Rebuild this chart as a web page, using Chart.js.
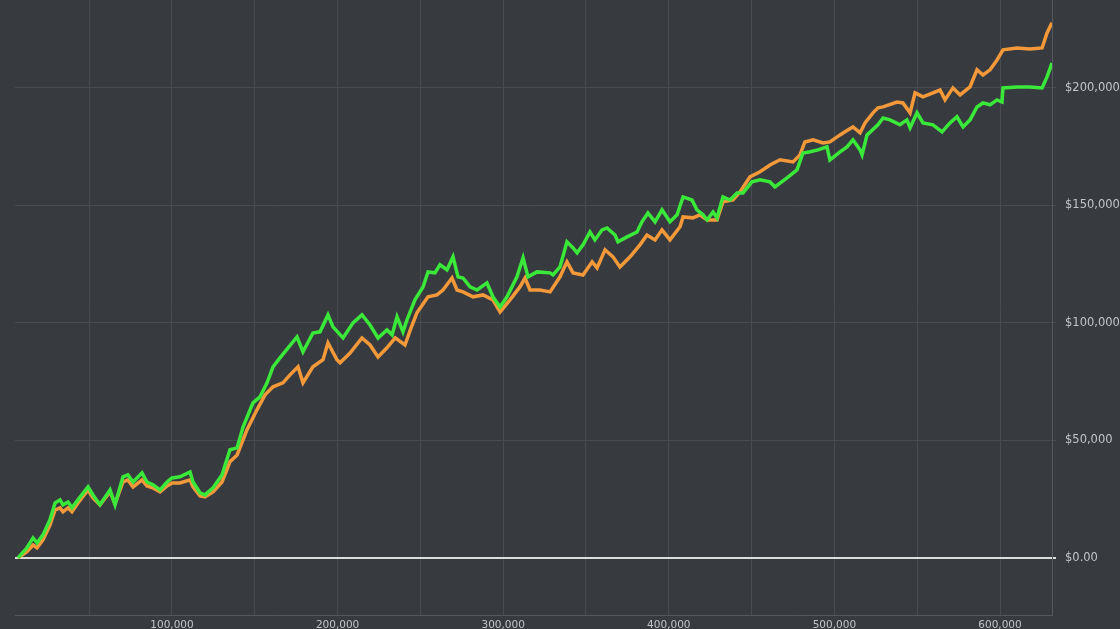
<!DOCTYPE html>
<html>
<head>
<meta charset="utf-8">
<title>Equity curve</title>
<script src="https://cdn.jsdelivr.net/npm/chart.js@4"></script>
<style>
    html, body { margin: 0; padding: 0; background: #373a3e; }
    .graph { width: 1120px; height: 629px; position: relative; }
    canvas { background: #373a3e; }
</style>
</head>
<body>
<div class="graph"><canvas id="equity--chart"></canvas></div>
<script>
"use strict";

// green curve (x = trade count, y = equity $)
const greenX = [
    7000, 12400, 16100, 18500, 22100, 26300, 29400, 32400, 34200, 37200,
    39600, 43200, 49300, 52300, 56500, 62600, 65600, 70400, 73400, 76500,
    81900, 84900, 88500, 92800, 97000, 100000, 104800, 110900, 112700, 116900,
    119900, 124800, 130200, 135000, 139300, 142900, 148900, 153100, 157400, 161000,
    165200, 170100, 175500, 179100, 185100, 189400, 194200, 197200, 203300, 209300,
    214700, 219600, 224400, 229800, 232900, 235900, 239500, 241900, 246700, 251600,
    254600, 258800, 261800, 266100, 269700, 272700, 275700, 280000, 284200, 290200,
    293800, 298100, 302300, 308300, 312000, 315000, 320400, 328300, 330100, 334300,
    338500, 342200, 344600, 348200, 352400, 355400, 359700, 362700, 367500, 369300,
    374800, 380800, 383800, 387400, 391700, 395900, 400700, 405000, 408600, 414000,
    417000, 420700, 423100, 426700, 429100, 432700, 437000, 441200, 444800, 450200,
    455100, 461100, 464100, 471400, 477400, 481000, 485300, 490100, 495500, 497300,
    503400, 507600, 511200, 515500, 516700, 519700, 526300, 529400, 533600, 539600,
    543800, 545700, 549900, 553500, 559500, 565000, 569800, 574000, 577700, 581900,
    586100, 589700, 594000, 598200, 601200, 601800, 610300, 618100, 625400, 628400,
    631400
];
const greenY = [
    0, 4300, 8500, 6400, 9800, 16200, 23400, 24700, 22600, 23800,
    21300, 24700, 30200, 26800, 22600, 28900, 22600, 34500, 35300, 32300,
    36200, 32300, 31100, 28900, 32300, 34000, 34500, 36600, 32300, 27700,
    26800, 29800, 35300, 46000, 46800, 55700, 66000, 68500, 74500, 81300,
    85100, 89400, 94000, 87700, 95700, 96200, 103400, 98300, 93600, 100000,
    103400, 99100, 93600, 97000, 94900, 102600, 96200, 101300, 109800, 115300,
    121700, 121300, 124700, 122600, 128100, 119600, 119100, 115300, 114000, 117000,
    111100, 106800, 111100, 119600, 127700, 119600, 121700, 121300, 120400, 123800,
    134500, 131900, 129800, 133200, 138700, 135300, 139600, 140400, 137400, 134500,
    136600, 138700, 143000, 146800, 143000, 148100, 143000, 146000, 153600, 152300,
    148100, 146000, 143800, 147200, 144700, 153600, 152300, 155300, 155300, 160000,
    160900, 160000, 157900, 161700, 165100, 172300, 172800, 173600, 174900, 169400,
    172800, 174900, 177900, 173600, 171500, 180000, 184300, 187200, 186400, 184300,
    186400, 183000, 189400, 185100, 184300, 181300, 185100, 187700, 183400, 186400,
    191900, 193600, 192800, 194900, 194000, 200000, 200400, 200400, 200000, 204700,
    210600
];

// orange curve
const orangeX = [
    7000, 12400, 16100, 18500, 22100, 26300, 29400, 32400, 34200, 37200,
    39600, 43200, 49300, 52300, 56500, 62600, 65600, 70400, 73400, 76500,
    81900, 84900, 88500, 92800, 97000, 100000, 104800, 110900, 112700, 116900,
    119900, 124800, 130200, 135000, 139300, 145300, 151300, 156200, 161000, 167000,
    171300, 176100, 179100, 185100, 191200, 194200, 199600, 201500, 207500, 214700,
    219600, 224400, 229800, 234800, 240700, 243900, 247900, 254600, 260000, 263600,
    269100, 272100, 275700, 281800, 287800, 293800, 298100, 304100, 310100, 313200,
    316200, 322200, 328300, 334300, 338500, 342200, 348200, 353700, 356700, 361500,
    366300, 370500, 376600, 382600, 386800, 391700, 395900, 400700, 406800, 408600,
    414600, 418800, 423100, 429100, 432700, 438800, 443000, 449000, 455100, 461100,
    467200, 475000, 479200, 482200, 487100, 493100, 497300, 503400, 506400, 511200,
    515500, 518500, 523300, 526300, 529400, 537800, 541400, 545700, 548700, 553500,
    559500, 563800, 566800, 571600, 575900, 581900, 586100, 589700, 594000, 598200,
    601800, 610300, 618100, 625400, 628400, 631400
];
const orangeY = [
    0, 2600, 5500, 4300, 7700, 14000, 20400, 21300, 19600, 21300,
    19600, 23400, 28900, 25500, 22600, 28100, 23000, 32300, 33200, 30200,
    33200, 30600, 29800, 28100, 30600, 31900, 31900, 33200, 30200, 26400,
    26000, 28100, 32300, 40900, 43800, 54500, 63000, 69400, 72800, 74500,
    77900, 81300, 74500, 81300, 84300, 91500, 84300, 83000, 87200, 93600,
    90600, 85500, 89400, 93600, 90600, 97000, 104300, 111100, 111900, 114000,
    119100, 114000, 113200, 111100, 111900, 109800, 104700, 109800, 115300, 119100,
    114000, 114000, 113200, 119600, 126000, 121300, 120400, 126000, 123400, 131100,
    128100, 123800, 128100, 133200, 137400, 135300, 139600, 135300, 140900, 145100,
    144700, 146000, 143800, 143800, 151500, 152300, 155700, 162100, 164300, 167200,
    169400, 168500, 171500, 177000, 177900, 176600, 177000, 180000, 181300, 183400,
    180900, 185100, 189400, 191500, 191900, 194000, 193600, 189400, 197900, 196200,
    197900, 199100, 194900, 200000, 197000, 200400, 207700, 205500, 207700, 211900,
    216200, 217000, 216600, 217000, 223400, 227700
];

// axis ranges and tick values
const xMin = 5200, xMax = 631400;
const yMin = -24300, yMax = 237400;
const xTicks = [50000, 100000, 150000, 200000, 250000, 300000, 350000, 400000, 450000, 500000, 550000, 600000];
const xLabelStep = 100000;
const yTicks = [0, 50000, 100000, 150000, 200000];

const gridColor = '#484b4f';
const zeroColor = '#dcdcdc';
const labelColor = '#c2c4c6';

function toPoints(xs, ys) {
    return xs.map((x, i) => ({ x: x, y: ys[i] }));
}

function renderChart() {
    const ctx = document.getElementById('equity--chart').getContext('2d');

    new Chart(ctx, {
        type: 'line',
        data: {
            datasets: [{
                label: 'Green',
                data: toPoints(greenX, greenY),
                borderColor: '#3ae83a',
                borderWidth: 3.5,
                pointRadius: 0,
                fill: false
            }, {
                label: 'Orange',
                data: toPoints(orangeX, orangeY),
                borderColor: '#f3993a',
                borderWidth: 3.5,
                pointRadius: 0,
                fill: false
            }]
        },
        options: {
            responsive: true,
            maintainAspectRatio: false,
            animation: false,
            layout: { padding: { left: 15, top: 0, right: 0, bottom: 0 } },
            elements: { line: { tension: 0 } },
            plugins: {
                legend: { display: false },
                tooltip: { enabled: false }
            },
            scales: {
                x: {
                    type: 'linear',
                    min: xMin,
                    max: xMax,
                    afterBuildTicks: function (scale) {
                        scale.ticks = xTicks.map(v => ({ value: v }));
                    },
                    afterFit: function (scale) {
                        scale.height = 14;
                        scale.paddingLeft = 0;
                        scale.paddingRight = 0;
                    },
                    border: { color: '#55585c', width: 1 },
                    grid: { color: gridColor, drawTicks: false },
                    ticks: {
                        autoSkip: false,
                        maxRotation: 0,
                        padding: 4,
                        color: labelColor,
                        font: { family: 'DejaVu Sans', size: 10.5 },
                        callback: function (v) {
                            return v % xLabelStep === 0 ? v.toLocaleString('en-US') : '';
                        }
                    }
                },
                y: {
                    position: 'right',
                    min: yMin,
                    max: yMax,
                    afterBuildTicks: function (scale) {
                        scale.ticks = yTicks.map(v => ({ value: v }));
                    },
                    afterFit: function (scale) {
                        scale.width = 68;
                        scale.paddingTop = 0;
                        scale.paddingBottom = 0;
                    },
                    border: { color: '#55585c', width: 1 },
                    grid: {
                        color: c => c.tick && c.tick.value === 0 ? zeroColor : gridColor,
                        tickColor: c => c.tick && c.tick.value === 0 ? zeroColor : gridColor,
                        lineWidth: c => c.tick && c.tick.value === 0 ? 2 : 1,
                        tickLength: 4
                    },
                    ticks: {
                        autoSkip: false,
                        padding: 9,
                        color: labelColor,
                        font: { family: 'DejaVu Sans', size: 11.5 },
                        callback: function (v) {
                            return v === 0 ? '$0.00' : '$' + v.toLocaleString('en-US');
                        }
                    }
                }
            }
        }
    });
}

renderChart();
</script>
</body>
</html>
